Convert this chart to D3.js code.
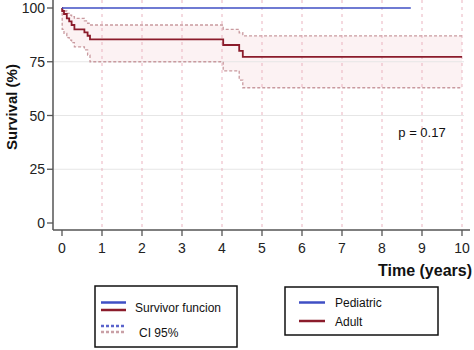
<!DOCTYPE html>
<html>
<head>
<meta charset="utf-8">
<script src="https://cdn.jsdelivr.net/npm/d3@7"></script>
<style>
  body { margin: 0; background: #fff; }
  text { font-family: "Liberation Sans", Arial, sans-serif; }
</style>
</head>
<body>
<script>
// data
const xTicks = [0, 1, 2, 3, 4, 5, 6, 7, 8, 9, 10];
const yTicks = [0, 25, 50, 75, 100];

const pedTime = [0, 8.72];
const pedSurv = [100, 100];

const adultTime = [0, 0.005, 0.05, 0.12, 0.18, 0.24, 0.31, 0.56, 0.64, 0.70, 4.03, 4.43, 4.52, 10];
const adultSurv = [100, 98.6, 97.2, 95.2, 93.8, 92.1, 90.1, 88.7, 87.1, 85.4, 82.8, 80.1, 77.3, 77.3];
const adultUpper = [100, 99.3, 98.6, 97.5, 96.7, 96.0, 95.2, 94.0, 92.9, 92.1, 90.1, 88.5, 87.0, 87.0];
const adultLower = [100, 90.1, 88.2, 86.2, 85.1, 83.9, 81.9, 80.5, 78.1, 75.0, 70.8, 66.5, 62.9, 62.9];

const width = 474, height = 350;
const blue = "#3f4fc4", red = "#8b1c2b", ciCol = "#c99a9f";

const x = d3.scaleLinear().domain([0, 10]).range([62, 462]);
const y = d3.scaleLinear().domain([0, 100]).range([223, 8]);

const svg = d3.select("body").append("svg").attr("width", width).attr("height", height);

const adult = adultTime.map((t, i) => ({t, s: adultSurv[i], hi: adultUpper[i], lo: adultLower[i]}));
const ped = pedTime.map((t, i) => ({t, s: pedSurv[i]}));

// CI band (very faint)
svg.append("path").datum(adult)
  .attr("fill", "#fcf2f3")
  .attr("d", d3.area().curve(d3.curveStepAfter).x(d => x(d.t)).y0(d => y(d.lo)).y1(d => y(d.hi)));

// horizontal grid
svg.append("g").selectAll("line").data(yTicks.filter(d => d > 0 && d < 100)).join("line")
  .attr("x1", 54).attr("x2", 464)
  .attr("y1", d => y(d)).attr("y2", d => y(d))
  .attr("stroke", "#e6e6e6").attr("stroke-width", 1);

// vertical dashed grid
svg.append("g").selectAll("line").data(xTicks.filter(d => d > 0)).join("line")
  .attr("x1", d => x(d)).attr("x2", d => x(d))
  .attr("y1", 0).attr("y2", 229)
  .attr("stroke", "#eab3bf").attr("stroke-width", 1)
  .attr("stroke-dasharray", "3,4");

const ciLine = key => d3.line().curve(d3.curveStepAfter).x(d => x(d.t)).y(d => y(d[key]));
["hi", "lo"].forEach(k => {
  svg.append("path").datum(adult)
    .attr("fill", "none").attr("stroke", ciCol).attr("stroke-width", 1.3)
    .attr("stroke-dasharray", "3,2")
    .attr("d", ciLine(k));
});

// survival curves
svg.append("path").datum(adult)
  .attr("fill", "none").attr("stroke", red).attr("stroke-width", 1.8)
  .attr("d", ciLine("s"));
svg.append("path").datum(ped)
  .attr("fill", "none").attr("stroke", blue).attr("stroke-width", 1.5)
  .attr("d", ciLine("s"));

// axes
const axisCol = "#555";
svg.append("line").attr("x1", 53).attr("x2", 53).attr("y1", 0).attr("y2", 230)
  .attr("stroke", axisCol).attr("stroke-width", 1.5);
svg.append("line").attr("x1", 53).attr("x2", 470).attr("y1", 230).attr("y2", 230)
  .attr("stroke", axisCol).attr("stroke-width", 1.5);

const yt = svg.append("g").selectAll("g").data(yTicks).join("g");
yt.append("line").attr("x1", 47).attr("x2", 53).attr("y1", d => y(d)).attr("y2", d => y(d))
  .attr("stroke", axisCol).attr("stroke-width", 1.3);
yt.append("text").attr("x", 45).attr("y", d => y(d) + 5).attr("text-anchor", "end")
  .attr("font-size", 14).attr("fill", "#222").text(d => d);

const xt = svg.append("g").selectAll("g").data(xTicks).join("g");
xt.append("line").attr("x1", d => x(d)).attr("x2", d => x(d)).attr("y1", 230).attr("y2", 236)
  .attr("stroke", axisCol).attr("stroke-width", 1.3);
xt.append("text").attr("x", d => x(d)).attr("y", 253).attr("text-anchor", "middle")
  .attr("font-size", 14).attr("fill", "#222").text(d => d);

// axis titles
svg.append("text").attr("transform", "translate(17,107) rotate(-90)")
  .attr("text-anchor", "middle").attr("font-family", "Lato, sans-serif")
  .attr("font-weight", "bold").attr("font-size", 15).attr("fill", "#111")
  .text("Survival (%)");
svg.append("text").attr("x", 472).attr("y", 276).attr("text-anchor", "end")
  .attr("font-family", "Lato, sans-serif").attr("font-weight", "bold")
  .attr("font-size", 16).attr("fill", "#111").text("Time (years)");

svg.append("text").attr("x", 422).attr("y", 137).attr("text-anchor", "middle")
  .attr("font-size", 13).attr("fill", "#111").text("p = 0.17");

// legend 1
svg.append("rect").attr("x", 95).attr("y", 286).attr("width", 142).attr("height", 61)
  .attr("fill", "#fff").attr("stroke", "#111").attr("stroke-width", 1.5);
[[302.5, blue], [310, red]].forEach(([yy, c]) => {
  svg.append("line").attr("x1", 101).attr("x2", 126).attr("y1", yy).attr("y2", yy)
    .attr("stroke", c).attr("stroke-width", 2.5);
});
[[326, "#5a64cc"], [332, "#c9a0a6"]].forEach(([yy, c]) => {
  svg.append("line").attr("x1", 101).attr("x2", 126).attr("y1", yy).attr("y2", yy)
    .attr("stroke", c).attr("stroke-width", 2.5).attr("stroke-dasharray", "3,2");
});
svg.append("text").attr("x", 135).attr("y", 311.5).attr("font-size", 12).attr("fill", "#111")
  .text("Survivor funcion");
svg.append("text").attr("x", 139).attr("y", 336.5).attr("font-size", 12).attr("fill", "#111")
  .text("CI 95%");

// legend 2
svg.append("rect").attr("x", 285).attr("y", 287).attr("width", 153).attr("height", 48)
  .attr("fill", "#fff").attr("stroke", "#111").attr("stroke-width", 1.5);
[["Pediatric", blue, 302.5], ["Adult", red, 321]].forEach(([lab, c, yy]) => {
  svg.append("line").attr("x1", 299).attr("x2", 325).attr("y1", yy).attr("y2", yy)
    .attr("stroke", c).attr("stroke-width", 2.5);
  svg.append("text").attr("x", 335).attr("y", yy + 4.5).attr("font-size", 12).attr("fill", "#111")
    .text(lab);
});
</script>
</body>
</html>
